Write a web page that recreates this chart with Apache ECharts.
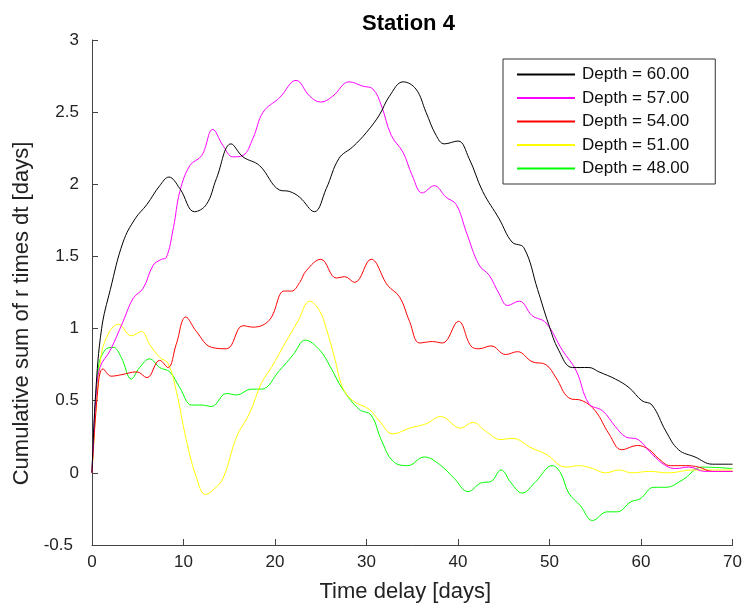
<!DOCTYPE html>
<html lang="en">
<head>
  <meta charset="UTF-8">
  <title>Station 4</title>
  <style>
    html, body { margin: 0; padding: 0; background: #fff; }
  </style>
</head>
<body>
<div id="main" style="width: 745px;height:608px;"></div>
<script src="https://cdn.jsdelivr.net/npm/echarts@6/dist/echarts.min.js"></script>
<script>
// [time delay (days), cumulative sum]
var depth60 = [[0,0],[0.4,0.55],[1.05,1.0],[2.0,1.27],[3.4,1.60],[4.7,1.76],[6.0,1.86],[7.4,1.99],[8.4,2.05],[9.6,1.97],[11.2,1.81],[12.5,1.86],[13.6,2.04],[15.2,2.28],[16.5,2.19],[18.3,2.13],[20.5,1.96],[21.6,1.95],[22.7,1.91],[24.3,1.81],[25.6,1.97],[27.0,2.18],[28.5,2.26],[30.0,2.36],[31.4,2.48],[32.5,2.61],[34.0,2.71],[35.4,2.66],[36.5,2.50],[37.6,2.34],[38.5,2.28],[40.0,2.30],[41.2,2.18],[42.7,1.95],[44.5,1.76],[45.9,1.60],[47.2,1.56],[48.7,1.27],[49.9,1.03],[51.0,0.85],[52.5,0.73],[54.3,0.73],[55.4,0.70],[57.2,0.65],[58.7,0.59],[60.1,0.50],[61.2,0.47],[62.7,0.29],[64.1,0.16],[65.9,0.11],[67.8,0.06],[70,0.06]];
var depth57 = [[0,0],[0.4,0.5],[0.87,0.73],[2.0,0.85],[3.4,1.05],[4.5,1.21],[5.6,1.28],[6.7,1.44],[7.6,1.48],[8.1,1.49],[8.9,1.70],[9.6,1.95],[10.7,2.13],[12.0,2.20],[13.2,2.38],[14.3,2.27],[15.4,2.19],[16.5,2.20],[17.6,2.32],[18.7,2.50],[20.5,2.60],[22.3,2.72],[23.8,2.61],[25.0,2.57],[26.3,2.61],[28.1,2.71],[29.6,2.68],[30.7,2.66],[31.6,2.55],[32.7,2.34],[34.0,2.22],[35.0,2.06],[36.1,1.94],[37.4,1.99],[38.7,1.91],[39.8,1.86],[40.9,1.67],[42.3,1.44],[43.4,1.37],[44.5,1.24],[45.4,1.16],[46.7,1.19],[48.1,1.09],[49.6,1.04],[51.4,0.85],[52.9,0.71],[54.3,0.48],[55.8,0.43],[57.2,0.32],[58.3,0.25],[59.7,0.23],[61.2,0.13],[62.7,0.05],[63.8,0.03],[65.2,0.04],[67.0,0.01],[70,0.01]];
var depth54 = [[0,0],[0.7,0.62],[1.2,0.72],[2.1,0.67],[3.2,0.68],[4.9,0.70],[6.0,0.66],[7.4,0.78],[8.3,0.73],[9.2,0.89],[10.25,1.08],[11.4,0.98],[13.05,0.87],[14.7,0.86],[16.5,1.02],[17.6,1.01],[19.4,1.06],[21.0,1.26],[21.8,1.26],[22.7,1.32],[23.4,1.40],[25.0,1.48],[26.7,1.35],[27.6,1.36],[28.7,1.32],[30.5,1.48],[32.3,1.30],[33.6,1.22],[34.7,1.05],[35.8,0.90],[37.2,0.91],[38.3,0.90],[40.05,1.05],[41.4,0.88],[42.3,0.86],[43.6,0.88],[45.2,0.82],[46.5,0.84],[48.1,0.77],[49.6,0.75],[50.7,0.66],[52.1,0.52],[53.6,0.50],[55.0,0.43],[56.5,0.27],[57.9,0.16],[59.6,0.19],[60.9,0.16],[61.9,0.10],[63.2,0.05],[64.85,0.05],[66.3,0.04],[67.8,0.01],[70,0.01]];
var depth51 = [[0,0],[0.87,0.75],[1.6,0.94],[2.9,1.03],[4.3,0.95],[5.4,0.98],[6.3,0.89],[7.4,0.80],[8.3,0.76],[9.2,0.57],[10.3,0.23],[11.4,-0.03],[12.4,-0.15],[13.2,-0.12],[14.3,-0.04],[15.8,0.25],[17.2,0.41],[18.5,0.62],[19.6,0.73],[21.2,0.91],[22.5,1.05],[23.8,1.19],[24.9,1.12],[25.6,1.0],[26.5,0.80],[27.4,0.59],[28.5,0.50],[30.3,0.44],[31.4,0.36],[32.9,0.27],[34.7,0.31],[36.5,0.34],[38.1,0.39],[40.3,0.31],[41.6,0.35],[43.0,0.29],[44.7,0.23],[45.9,0.24],[48.1,0.17],[49.6,0.13],[51.8,0.04],[53.2,0.05],[54.7,0.03],[56.1,0.00],[57.6,0.02],[59.0,0.00],[60.9,0.01],[63.0,0.00],[65.6,0.02],[70,0.02]];
var depth48 = [[0,0],[0.7,0.73],[1.4,0.85],[2.3,0.87],[3.2,0.80],[4.3,0.65],[5.2,0.73],[6.3,0.79],[7.4,0.73],[8.5,0.70],[9.6,0.59],[10.9,0.47],[12.0,0.47],[13.05,0.46],[14.7,0.55],[15.8,0.54],[17.4,0.58],[18.5,0.58],[20.5,0.71],[22.0,0.82],[23.3,0.92],[24.9,0.85],[26.0,0.74],[27.4,0.58],[29.2,0.44],[30.5,0.40],[31.6,0.23],[32.9,0.08],[34.5,0.05],[36.3,0.11],[37.95,0.06],[39.6,-0.04],[41.1,-0.13],[42.5,-0.07],[43.6,-0.06],[44.7,0.02],[45.8,-0.07],[47.0,-0.14],[48.5,-0.06],[50.3,0.05],[51.2,0.00],[52.1,-0.14],[53.4,-0.23],[54.7,-0.33],[56.3,-0.27],[57.4,-0.27],[58.9,-0.20],[59.9,-0.18],[61.4,-0.10],[62.7,-0.10],[64.5,-0.05],[66.7,0.04],[70,0.03]];

var seriesNames = ['Depth = 60.00', 'Depth = 57.00', 'Depth = 54.00', 'Depth = 51.00', 'Depth = 48.00'];
var seriesData = [depth60, depth57, depth54, depth51, depth48];
var seriesColors = ['#000000', '#ff00ff', '#ff0000', '#ffff00', '#00ff00'];

var font = 'Liberation Sans, Arial, sans-serif';
var myChart = echarts.init(document.getElementById('main'));

var series = [];
for (var i = 0; i < seriesData.length; i++) {
  series.push({
    name: seriesNames[i],
    type: 'line',
    data: seriesData[i],
    smooth: 0.4,
    symbol: 'none',
    itemStyle: { color: seriesColors[i] },
    lineStyle: { width: 1, color: seriesColors[i] },
    z: 10 - i
  });
}

myChart.setOption({
  animation: false,
  color: seriesColors,
  title: {
    text: 'Station 4',
    left: 357,
    top: 8,
    textStyle: { fontFamily: font, fontSize: 22, fontWeight: 'bold', color: '#000' }
  },
  legend: {
    orient: 'vertical',
    left: 503,
    top: 59,
    align: 'left',
    padding: [7, 26, 7, 13],
    itemWidth: 58,
    itemHeight: 14,
    itemGap: 6.5,
    itemStyle: { opacity: 0 },
    borderColor: '#333',
    borderWidth: 1,
    borderRadius: 0,
    backgroundColor: '#fff',
    textStyle: { fontFamily: font, fontSize: 17, color: '#111', padding: [0, 0, 0, 2] },
    data: seriesNames
  },
  grid: { left: 92, right: 11, top: 40, bottom: 60 },
  xAxis: {
    type: 'value',
    min: 0,
    max: 70,
    interval: 10,
    name: 'Time delay [days]',
    nameLocation: 'middle',
    nameGap: 36,
    nameTextStyle: { fontFamily: font, fontSize: 22, color: '#222', padding: [0, 14, 0, 0] },
    axisLine: { onZero: false, lineStyle: { color: '#444', width: 1 } },
    axisTick: { inside: true, length: 6, lineStyle: { color: '#444' } },
    axisLabel: { fontFamily: font, fontSize: 17, color: '#222', margin: 9 },
    splitLine: { show: false }
  },
  yAxis: {
    type: 'value',
    min: -0.5,
    max: 3,
    interval: 0.5,
    name: 'Cumulative sum of r times dt [days]',
    nameLocation: 'middle',
    nameGap: 55,
    nameTextStyle: { fontFamily: font, fontSize: 22, color: '#222', padding: [0, 42, 0, 0] },
    axisLine: { show: true, onZero: false, lineStyle: { color: '#444', width: 1 } },
    axisTick: { show: true, inside: true, length: 6, lineStyle: { color: '#444' } },
    axisLabel: {
      fontFamily: font, fontSize: 17, color: '#222', margin: 13,
      formatter: function (v) { return v === -0.5 ? '{low|-0.5}' : String(v); },
      rich: { low: { fontFamily: font, fontSize: 17, color: '#222', padding: [0, 6, 0, 0] } }
    },
    splitLine: { show: false }
  },
  series: series
});
</script>
</body>
</html>
